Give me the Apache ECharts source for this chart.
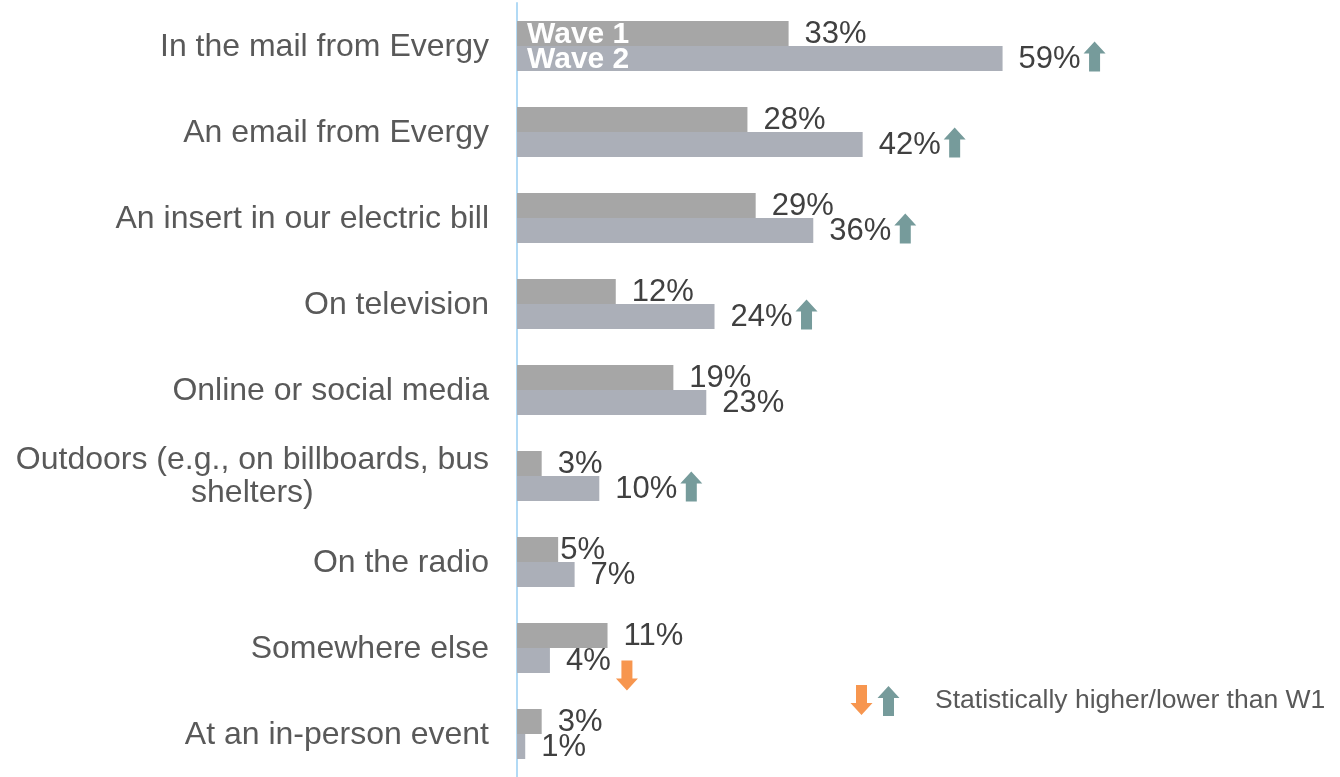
<!DOCTYPE html>
<html>
<head>
<meta charset="utf-8">
<script src="https://cdn.jsdelivr.net/npm/echarts@6/dist/echarts.min.js"></script>
<style>
  html, body { margin: 0; padding: 0; background: #ffffff; }
  #chart { width: 1340px; height: 777px; }
</style>
</head>
<body>
<div id="chart"></div>
<script>
// Where customers saw or heard about the program, by survey wave (% of respondents)
const categories = [
  'In the mail from Evergy',
  'An email from Evergy',
  'An insert in our electric bill',
  'On television',
  'Online or social media',
  'Outdoors (e.g., on billboards, bus\nshelters)',
  'On the radio',
  'Somewhere else',
  'At an in-person event'
];
const seriesNames = ['Wave 1', 'Wave 2'];
const wave1 = [33, 28, 29, 12, 19, 3, 5, 11, 3];
const wave2 = [59, 42, 36, 24, 23, 10, 7, 4, 1];
// Significance of the Wave 2 result vs Wave 1: 1 = higher, -1 = lower, 0 = no difference
const wave2Change = [1, 1, 1, 1, 0, 1, 0, -1, 0];
const noteText = 'Statistically higher/lower than W1';

const FONT = '"Liberation Sans", Arial, sans-serif';
const BAR_W = 25;
const UP_COLOR = '#769B9B';
const DOWN_COLOR = '#F7964F';

// Block arrow polygon centred on (cx, cy); dir 1 points up, -1 points down
function arrowPoints(cx, cy, dir) {
  const hw = 11, sw = 5.5, h = 15, head = 12;
  const s = -dir;
  return [
    [cx, cy + s * h],
    [cx + hw, cy + s * (h - head)],
    [cx + sw, cy + s * (h - head)],
    [cx + sw, cy - s * h],
    [cx - sw, cy - s * h],
    [cx - sw, cy + s * (h - head)],
    [cx - hw, cy + s * (h - head)]
  ];
}

const chart = echarts.init(document.getElementById('chart'));

function valueLabel(extra) {
  return Object.assign({
    show: true,
    position: 'right',
    distance: 16,
    offset: [0, 1],
    formatter: '{c}%',
    fontFamily: FONT,
    fontSize: 31,
    color: '#404040'
  }, extra || {});
}

const wave1Data = wave1.map((v, i) =>
  // the radio label sits tight against its bar
  i === 6 ? { value: v, label: { distance: 2 } } : v
);

chart.setOption({
  animation: false,
  backgroundColor: '#ffffff',
  grid: { left: 517, top: 3, width: 829, height: 779, containLabel: false },
  xAxis: {
    type: 'value',
    min: 0,
    max: 100,
    show: false
  },
  yAxis: {
    type: 'category',
    data: categories,
    inverse: true,
    axisTick: { show: false },
    axisLine: { show: true, lineStyle: { color: '#B2DAF5', width: 2 } },
    axisLabel: {
      margin: 28,
      align: 'right',
      fontFamily: FONT,
      fontSize: 32,
      color: '#595959',
      formatter: function (v) {
        return v.split('\n').map(l => '{c|' + l + '}').join('\n');
      },
      rich: {
        c: {
          align: 'center',
          fontFamily: FONT,
          fontSize: 32,
          lineHeight: 33,
          color: '#595959',
          padding: [2, 0, 0, 0]
        }
      }
    },
    splitLine: { show: false }
  },
  series: [
    {
      name: seriesNames[0],
      type: 'bar',
      data: wave1Data,
      barWidth: BAR_W,
      barGap: '0%',
      itemStyle: { color: '#A6A6A6' },
      label: valueLabel()
    },
    {
      name: seriesNames[1],
      type: 'bar',
      data: wave2,
      barWidth: BAR_W,
      barGap: '0%',
      itemStyle: { color: '#ABAFB8' },
      label: valueLabel()
    },
    {
      // wave names written inside the first pair of bars
      type: 'custom',
      coordinateSystem: 'cartesian2d',
      z: 5,
      encode: { x: 0, y: 1 },
      data: seriesNames.map((n, k) => [0, 0, k]),
      renderItem: function (params, api) {
        const k = api.value(2);
        const p = api.coord([api.value(0), api.value(1)]);
        return {
          type: 'text',
          style: {
            text: seriesNames[k],
            x: p[0] + 10,
            y: p[1] + (k === 0 ? -BAR_W / 2 : BAR_W / 2) + 1,
            fill: '#ffffff',
            font: 'bold 30px ' + FONT,
            align: 'left',
            verticalAlign: 'middle'
          }
        };
      }
    },
    {
      // significance arrows after the Wave 2 labels
      type: 'custom',
      coordinateSystem: 'cartesian2d',
      z: 5,
      encode: { x: 0, y: 1 },
      data: wave2.map((v, i) => [v, i, wave2Change[i]]),
      renderItem: function (params, api) {
        const dir = api.value(2);
        if (!dir) return null;
        const p = api.coord([api.value(0), api.value(1)]);
        const cy = p[1] + BAR_W / 2;
        const pts = dir > 0
          ? arrowPoints(p[0] + 92, cy - 2, 1)
          : arrowPoints(p[0] + 77, cy + 15, -1);
        return {
          type: 'polygon',
          shape: { points: pts },
          style: { fill: dir > 0 ? UP_COLOR : DOWN_COLOR }
        };
      }
    }
  ],
  graphic: [
    { type: 'polygon', shape: { points: arrowPoints(861.5, 700, -1) }, style: { fill: DOWN_COLOR } },
    { type: 'polygon', shape: { points: arrowPoints(888.5, 701, 1) }, style: { fill: UP_COLOR } },
    {
      type: 'text',
      left: 935,
      top: 687,
      style: {
        text: noteText,
        font: '26.5px ' + FONT,
        fill: '#595959'
      }
    }
  ]
});
</script>
</body>
</html>
